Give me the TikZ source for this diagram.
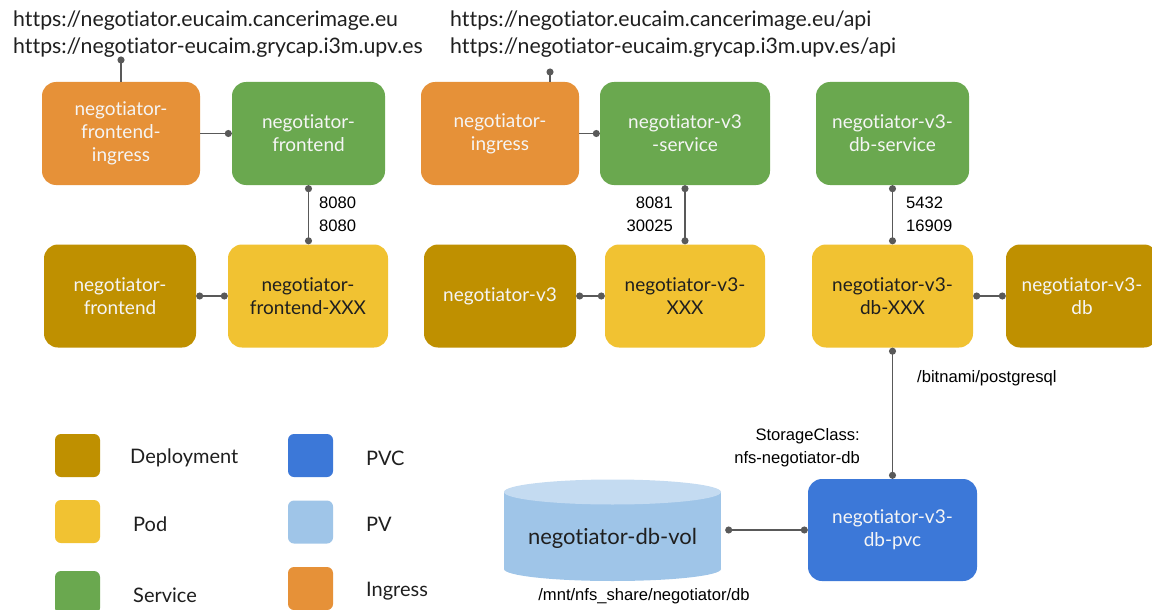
\documentclass[tikz,border=0pt]{standalone}
\usepackage{fontspec}
\setmainfont{Lato}[Ligatures=NoCommon]
\newfontfamily\portfont{Liberation Sans}
\usetikzlibrary{arrows.meta}
\definecolor{cIng}{HTML}{E69138}
\definecolor{cSvc}{HTML}{6AA84F}
\definecolor{cDep}{HTML}{BF9000}
\definecolor{cPod}{HTML}{F1C232}
\definecolor{cPvc}{HTML}{3C78D8}
\definecolor{cPv}{HTML}{9FC5E8}
\definecolor{cPvTop}{HTML}{C4DBF1}
\definecolor{cLine}{HTML}{595959}
\definecolor{cLight}{HTML}{F5F5F5}
\definecolor{cInk}{HTML}{1F1F1F}

\begin{document}
\begin{tikzpicture}[x=1pt,y=-1pt,
  box/.style={rectangle, rounded corners=14pt, minimum height=103pt,
    inner sep=0pt, align=center, font=\fontsize{19}{23}\selectfont},
  ingressbox/.style={box, fill=cIng, text=cLight},
  servicebox/.style={box, fill=cSvc, text=cLight},
  deploybox/.style={box, fill=cDep, text=cLight},
  podbox/.style={box, fill=cPod, text=cInk},
  pvcbox/.style={box, fill=cPvc, text=cLight},
  legsq/.style={rectangle, rounded corners=6pt, minimum width=45pt,
    minimum height=43pt, inner sep=0pt},
  legtxt/.style={anchor=west, inner sep=0pt, text=cInk,
    font=\fontsize{20}{24}\selectfont},
  urltxt/.style={anchor=west, align=left, inner sep=0pt, text=cInk,
    font=\fontsize{21.3}{27}\selectfont},
  porttxt/.style={inner sep=0pt, text=black,
    font=\portfont\fontsize{16.6}{23}\selectfont},
  link/.style={draw=cLine, line width=1.5pt},
  enddot/.style={link, -{Circle[length=7pt]}},
  bothdot/.style={link, {Circle[length=7pt]}-{Circle[length=7pt]}}
]
\clip (0,0) rectangle (1152,610);
\fill[white] (0,0) rectangle (1152,610);

% external addresses
\node[urltxt] (url1) at (13,34)
  {https://negotiator.eucaim.cancerimage.eu\\https://negotiator-eucaim.grycap.i3m.upv.es};
\node[urltxt] (url2) at (450,34)
  {https://negotiator.eucaim.cancerimage.eu/api\\https://negotiator-eucaim.grycap.i3m.upv.es/api};

% ingresses and services
\node[ingressbox, minimum width=158pt] (fi) at (121,133.5) {negotiator-\\frontend-\\ingress};
\node[servicebox, minimum width=153pt] (fs) at (308.5,133.5) {negotiator-\\frontend};
\node[ingressbox, minimum width=158pt] (ing) at (500,133.5) {negotiator-\\ingress};
\node[servicebox, minimum width=170pt] (v3s) at (685,133.5) {negotiator-v3\\-service};
\node[servicebox, minimum width=153pt] (dbs) at (892.5,133.5) {negotiator-v3-\\db-service};

% deployments and pods
\node[deploybox, minimum width=152pt] (fd) at (120,296) {negotiator-\\frontend};
\node[podbox, minimum width=160pt] (fp) at (308,296) {negotiator-\\frontend-XXX};
\node[deploybox, minimum width=152pt] (v3d) at (500,296) {negotiator-v3};
\node[podbox, minimum width=160pt] (v3p) at (685,296) {negotiator-v3-\\XXX};
\node[podbox, minimum width=161pt] (dbp) at (892.5,296) {negotiator-v3-\\db-XXX};
\node[deploybox, minimum width=152pt] (dbd) at (1082,296) {negotiator-v3-\\db};

% claim and volume
\node[pvcbox, minimum width=169pt, minimum height=102pt] (pvc) at (892.5,530) {negotiator-v3-\\db-pvc};
\fill[cPv] (504,492) rectangle (721,569);
\fill[cPv] (612.5,569) ellipse [x radius=108.5, y radius=12];
\fill[cPvTop] (612.5,492) ellipse [x radius=108.5, y radius=12.5];
\node[minimum width=225pt, minimum height=86pt, inner sep=0pt, text=cInk,
  font=\fontsize{22}{26}\selectfont] (vol) at (612.5,538) {negotiator-db-vol};

% connectors
\coordinate (u1) at (121,56.5);
\coordinate (u2) at (550,68.5);
\draw[enddot] (fi.north) -- (u1);
\draw[enddot] (u2 |- ing.north) -- (u2);
\draw[enddot] (fi.east) -- (fs.west);
\draw[enddot] (ing.east) -- (v3s.west);
\draw[bothdot] (fs.south) -- (fs.south |- fp.north);
\draw[bothdot] (v3s.south) -- (v3p.north);
\draw[bothdot] (dbs.south) -- (dbp.north);
\draw[bothdot] (fd.east) -- (fp.west);
\draw[bothdot] (v3d.east) -- (v3p.west);
\draw[bothdot] (dbp.east) -- (dbd.west);
\draw[bothdot] (dbp.south) -- (pvc.north);
\draw[bothdot] (pvc.west -| vol.east) -- (pvc.west);

% ports and paths
\node[porttxt, anchor=west, align=left] (pf) at (319,214) {8080\\8080};
\node[porttxt, anchor=east, align=right] (pv3) at (673,214) {8081\\30025};
\node[porttxt, anchor=west, align=left] (pdb) at (906,214) {5432\\16909};
\node[porttxt, anchor=west] (mnt1) at (917,378) {/bitnami/postgresql};
\node[porttxt, anchor=east, align=right] (sc) at (860,448) {StorageClass:\\nfs-negotiator-db};
\node[porttxt] (mnt2) at (644,596) {/mnt/nfs\_share/negotiator/db};

% legend
\node[legsq, fill=cDep] (kDep) at (77.5,455.5) {};
\node[legsq, fill=cPod] (kPod) at (77.5,521.5) {};
\node[legsq, fill=cSvc] (kSvc) at (77.5,592.5) {};
\node[legsq, fill=cPvc] (kPvc) at (310.5,455.5) {};
\node[legsq, fill=cPv] (kPv) at (310.5,522) {};
\node[legsq, fill=cIng] (kIng) at (310.5,588.5) {};
\node[legtxt] (lDep) at (130,458) {Deployment};
\node[legtxt] (lPod) at (133,524) {Pod};
\node[legtxt] (lSvc) at (133,595) {Service};
\node[legtxt] (lPvc) at (366,458) {PVC};
\node[legtxt] (lPv) at (366,524) {PV};
\node[legtxt] (lIng) at (366,591) {Ingress};
\end{tikzpicture}
\end{document}
